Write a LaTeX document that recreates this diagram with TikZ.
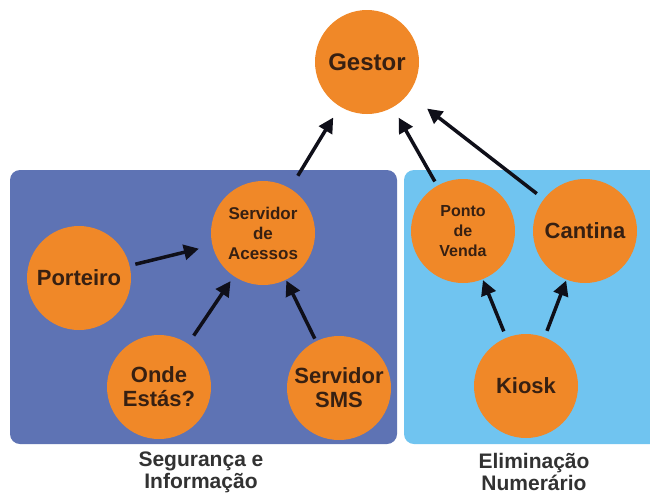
\documentclass[tikz,border=0pt]{standalone}
\usepackage{fontspec}
\setmainfont{Liberation Sans}
\usetikzlibrary{arrows.meta}
\definecolor{boxL}{RGB}{94,115,180}
\definecolor{boxR}{RGB}{112,196,240}
\definecolor{orng}{RGB}{240,136,40}
\definecolor{ntext}{RGB}{55,32,18}
\definecolor{ltext}{RGB}{50,50,50}
\definecolor{arr}{RGB}{15,15,25}
\tikzset{
  bub/.style={circle, fill=orng, draw=none, minimum size=104pt, inner sep=0pt, outer sep=0pt,
     text=ntext, align=center, font=\bfseries\fontsize{22}{24}\selectfont},
  conn/.style={draw=arr, line width=3.5pt, -{Triangle[length=15pt,width=15pt]}},
  grouplabel/.style={text=ltext, align=center, font=\bfseries\fontsize{21}{22}\selectfont}
}
\begin{document}
\begin{tikzpicture}[x=1pt,y=-1pt]
\useasboundingbox (0,0) rectangle (650,496);
\fill[white] (0,0) rectangle (650,496);
\begin{scope}
\clip (0,0) rectangle (650,496);
\fill[boxL, rounded corners=10pt] (10,170) rectangle (397,444);
\fill[boxR, rounded corners=10pt] (404,170) rectangle (668,444);
\end{scope}

\node[bub, font=\bfseries\fontsize{24}{26}\selectfont] (gestor) at (367,62) {Gestor};
\node[bub, font=\bfseries\fontsize{17}{20}\selectfont] (sa) at (263,233) {Servidor\\de\\Acessos};
\node[bub] (porteiro) at (79,278) {Porteiro};
\node[bub] (onde) at (159,387) {Onde\\Estás?};
\node[bub] (sms) at (339,388) {Servidor\\SMS};
\node[bub, font=\bfseries\fontsize{16}{20}\selectfont] (ponto) at (463,231) {Ponto\\de\\Venda};
\node[bub] (cantina) at (585,231) {Cantina};
\node[bub] (kiosk) at (526,386) {Kiosk};

\draw[conn, shorten <=15pt, shorten >=13pt] (sa) -- (gestor);
\draw[conn, shorten <=5pt, shorten >=12pt] (ponto) -- (gestor);
\draw[conn, shorten <=9pt, shorten >=24pt] (cantina) -- (gestor);
\draw[conn, shorten <=6pt, shorten >=14pt] (porteiro) -- (sa);
\draw[conn, shorten <=10pt, shorten >=6pt] (onde) -- (sa);
\draw[conn, shorten <=3pt, shorten >=1pt] (sms) -- (sa);
\draw[conn, shorten <=7pt, shorten >=1pt] (kiosk) -- (ponto);
\draw[conn, shorten <=7pt, shorten >=1pt] (kiosk) -- (cantina);

\node[grouplabel] (lblL) at (201,472) {Segurança e\\Informação};
\node[grouplabel] (lblR) at (534,472) {Eliminação\\Numerário};
\end{tikzpicture}
\end{document}
